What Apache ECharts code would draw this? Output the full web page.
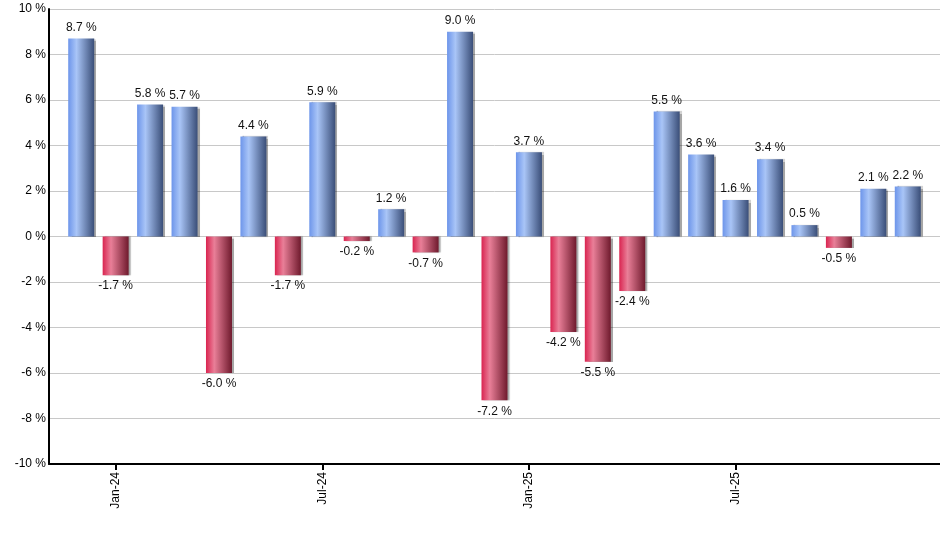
<!DOCTYPE html>
<html>
<head>
<meta charset="utf-8">
<script src="https://cdn.jsdelivr.net/npm/echarts@6/dist/echarts.min.js"></script>
<style>
html,body{margin:0;padding:0;background:#fff;}
#c{width:940px;height:550px;}
</style>
</head>
<body>
<div id="c"></div>
<script>
const categories = ['Dec-23','Jan-24','Feb-24','Mar-24','Apr-24','May-24','Jun-24','Jul-24','Aug-24','Sep-24','Oct-24','Nov-24','Dec-24','Jan-25','Feb-25','Mar-25','Apr-25','May-25','Jun-25','Jul-25','Aug-25','Sep-25','Oct-25','Nov-25','Dec-25'];
const values = [8.7,-1.7,5.8,5.7,-6.0,4.4,-1.7,5.9,-0.2,1.2,-0.7,9.0,-7.2,3.7,-4.2,-5.5,-2.4,5.5,3.6,1.6,3.4,0.5,-0.5,2.1,2.2];
const yTicks = [-10,-8,-6,-4,-2,0,2,4,6,8,10];

const blueGrad = new echarts.graphic.LinearGradient(0,0,1,0,[
  {offset:0,color:'#6d95ea'},
  {offset:0.32,color:'#a9c5f7'},
  {offset:1,color:'#3a4e78'}
]);
const redGrad = new echarts.graphic.LinearGradient(0,0,1,0,[
  {offset:0,color:'#d92450'},
  {offset:0.32,color:'#e97f98'},
  {offset:1,color:'#6f1a2d'}
]);

const data = values.map(v => ({
  value: v,
  itemStyle: {color: v >= 0 ? blueGrad : redGrad},
  label: {position: v >= 0 ? 'top' : 'bottom'}
}));

const font = 'Liberation Sans, Arial, sans-serif';
const chart = echarts.init(document.getElementById('c'));
chart.setOption({
  animation: false,
  backgroundColor: '#fff',
  grid: [
    {left: 49, right: 0, top: 9, bottom: 86},
    {left: 64, right: 15, top: 9, bottom: 86}
  ],
  xAxis: [
    {type: 'value', gridIndex: 0, min: 0, max: 1, show: true,
     axisLine: {show: true, onZero: false, lineStyle: {color: '#000', width: 2}},
     axisTick: {show: false}, axisLabel: {show: false}, splitLine: {show: false}},
    {type: 'category', gridIndex: 1, data: categories,
     axisLine: {show: false, onZero: false},
     axisTick: {show: true, alignWithLabel: true, length: 6, lineStyle: {color: '#000', width: 2},
       interval: (i) => i % 6 === 1},
     axisLabel: {interval: (i) => i % 6 === 1, rotate: 90, color: '#000', fontSize: 12,
       fontFamily: font, margin: 8}}
  ],
  yAxis: [
    {type: 'value', gridIndex: 0, min: yTicks[0], max: yTicks[yTicks.length-1], interval: 2,
     axisLine: {show: true, onZero: false, lineStyle: {color: '#000', width: 2}},
     axisTick: {show: false},
     axisLabel: {formatter: v => v + ' %', color: '#000', fontSize: 12, fontFamily: font, margin: 3},
     splitLine: {show: true, lineStyle: {color: '#c8c8c8', width: 1}}},
    {type: 'value', gridIndex: 1, min: yTicks[0], max: yTicks[yTicks.length-1], interval: 2, show: false}
  ],
  series: [{
    type: 'bar',
    xAxisIndex: 1, yAxisIndex: 1,
    data: data,
    barWidth: 26,
    itemStyle: {shadowColor: 'rgba(0,0,0,0.35)', shadowOffsetX: 2, shadowOffsetY: 0, shadowBlur: 1},
    label: {show: true, formatter: p => p.value.toFixed(1) + ' %', color: '#111', fontSize: 12,
      fontFamily: font, distance: 5}
  }]
});
</script>
</body>
</html>
